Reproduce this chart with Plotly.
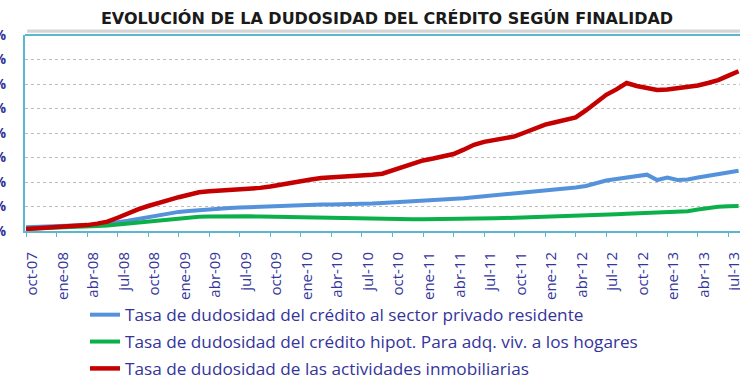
import plotly.graph_objects as go

# Monthly observations, oct-07 .. ago-13
months = ["oct-07","nov-07","dic-07","ene-08","feb-08","mar-08","abr-08","may-08","jun-08","jul-08","ago-08","sep-08",
          "oct-08","nov-08","dic-08","ene-09","feb-09","mar-09","abr-09","may-09","jun-09","jul-09","ago-09","sep-09",
          "oct-09","nov-09","dic-09","ene-10","feb-10","mar-10","abr-10","may-10","jun-10","jul-10","ago-10","sep-10",
          "oct-10","nov-10","dic-10","ene-11","feb-11","mar-11","abr-11","may-11","jun-11","jul-11","ago-11","sep-11",
          "oct-11","nov-11","dic-11","ene-12","feb-12","mar-12","abr-12","may-12","jun-12","jul-12","ago-12","sep-12",
          "oct-12","nov-12","dic-12","ene-13","feb-13","mar-13","abr-13","may-13","jun-13","jul-13","ago-13"]

sector_privado = [0.75,0.8,0.9,0.95,1.0,1.1,1.2,1.35,1.5,1.8,2.1,2.5,
                  2.9,3.2,3.6,3.9,4.1,4.3,4.5,4.6,4.7,4.8,4.9,4.9,
                  5.0,5.1,5.1,5.2,5.3,5.4,5.4,5.4,5.4,5.5,5.6,5.7,
                  5.8,5.9,6.0,6.2,6.3,6.4,6.5,6.7,6.9,7.1,7.2,7.4,
                  7.6,7.7,7.9,8.2,8.4,8.7,8.9,9.2,9.8,10.3,10.6,10.9,
                  11.2,11.5,10.4,10.9,10.4,10.5,10.9,11.2,11.6,12.0,12.3]

hipotecario = [0.45,0.5,0.55,0.6,0.7,0.8,0.9,1.0,1.1,1.3,1.5,1.7,
               1.9,2.1,2.4,2.6,2.75,2.9,2.95,3.0,3.0,3.0,3.0,2.95,
               2.9,2.85,2.8,2.8,2.75,2.7,2.7,2.65,2.6,2.6,2.55,2.5,
               2.5,2.45,2.4,2.4,2.4,2.4,2.45,2.5,2.5,2.55,2.6,2.65,
               2.7,2.75,2.8,2.85,2.9,2.95,3.0,3.1,3.2,3.3,3.4,3.5,
               3.6,3.7,3.75,3.85,3.95,4.05,4.4,4.7,4.95,5.05,5.1]

inmobiliarias = [0.4,0.5,0.6,0.7,0.8,1.0,1.2,1.5,1.9,2.7,3.6,4.4,
                 5.1,5.6,6.3,6.9,7.4,7.9,8.1,8.2,8.3,8.4,8.6,8.8,
                 9.1,9.5,9.9,10.3,10.5,10.8,10.9,11.0,11.2,11.3,11.5,11.7,
                 12.4,13.2,13.9,14.4,14.8,15.2,15.7,16.6,17.6,18.2,18.6,19.0,
                 19.3,20.1,21.0,21.7,22.2,22.6,23.2,24.6,26.3,27.8,28.9,30.2,
                 29.6,29.1,28.8,28.9,29.1,29.3,29.7,30.2,30.8,31.7,32.6]

tick_labels = months[::3]
y_ticks = [0, 5, 10, 15, 20, 25, 30, 35, 40]

names = ["Tasa de dudosidad del crédito al sector privado residente",
         "Tasa de dudosidad del crédito hipot. Para adq. viv. a los hogares",
         "Tasa de dudosidad de las actividades inmobiliarias"]
colors = ["#5592DC", "#0BB04B", "#C40000"]
series = [sector_privado, hipotecario, inmobiliarias]

x_idx = list(range(len(months)))
teal = "#5BB6CF"
txt = "#34349C"

fig = go.Figure()
for i, (nm, col, ys) in enumerate(zip(names, colors, series)):
    fig.add_trace(go.Scatter(x=x_idx, y=ys, mode="lines", name=nm,
                             line=dict(color=col, width=4.5 if i == 2 else 4),
                             legendgroup=str(i), hoverinfo="skip"))

tick_pos = [i for i in range(0, len(months), 3)]
fig.update_layout(
    width=740, height=389,
    margin=dict(l=25, r=0, t=35, b=158, autoexpand=False),
    paper_bgcolor="white", plot_bgcolor="white",
    title=dict(text="EVOLUCIÓN DE LA DUDOSIDAD DEL CRÉDITO SEGÚN FINALIDAD",
               x=387/740, xanchor="center", y=1-18/389, yanchor="middle",
               font=dict(family="DejaVu Sans", size=16, color="#1A1A1A", weight="bold")),
    showlegend=True,
    legend=dict(xref="container", yref="container", x=85/740, y=1-297/389,
                xanchor="left", yanchor="top", tracegroupgap=1.5,
                font=dict(family="Open Sans", size=17.2, color=txt),
                bgcolor="rgba(0,0,0,0)"),
    xaxis=dict(range=[-0.1, 70.14], tickmode="array", automargin=False,
               tickvals=[p + 0.6 for p in tick_pos], ticktext=tick_labels,
               tickangle=-90, ticks="", showgrid=False, zeroline=False,
               showline=True, linecolor=teal, linewidth=2,
               tickfont=dict(family="Open Sans", size=15, color=txt),
               ticklabelstandoff=13, ticklabeloverflow="allow",
               minor=dict(tickmode="array", tickvals=tick_pos, ticks="outside",
                          ticklen=4, tickcolor=teal, tickwidth=1, showgrid=False)),
    yaxis=dict(range=[0, 40], tickmode="array", tickvals=y_ticks, automargin=False,
               ticktext=[f"{v}%" for v in y_ticks], showgrid=True,
               gridcolor="#BDBDBD", griddash="dot", gridwidth=1, zeroline=False,
               showline=True, linecolor=teal, linewidth=2, ticks="",
               tickfont=dict(family="Open Sans", size=14, color=txt, weight="bold"),
               ticklabelstandoff=14, ticklabeloverflow="allow"),
    shapes=[
        dict(type="line", xref="paper", yref="paper", x0=0, x1=1, y0=1, y1=1,
             line=dict(color=teal, width=2)),
        dict(type="rect", xref="paper", yref="paper", x0=0.003, x1=1, y0=1.012, y1=1.028,
             line=dict(width=0), fillcolor="#D4D4D4"),
    ],
)

fig.write_html("out.html", config={"displayModeBar": False},
               post_script="document.body.style.margin='0px';")
